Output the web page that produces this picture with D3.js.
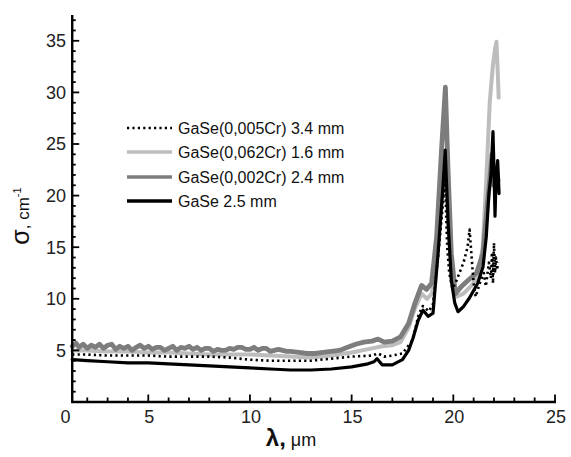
<!DOCTYPE html>
<html><head><meta charset="utf-8">
<script src="https://cdn.jsdelivr.net/npm/d3@7/dist/d3.min.js"></script>
<style>body{margin:0;background:#fff}svg{display:block}text{font-family:"Liberation Sans",Arial,sans-serif}</style>
</head><body><svg id="c" width="571" height="457"></svg>
<script>
// ---- data ----
const seriesNames = ["GaSe(0,005Cr) 3.4 mm","GaSe(0,062Cr) 1.6 mm","GaSe(0,002Cr) 2.4 mm","GaSe 2.5 mm"];
const xTickValues = [5,10,15,20,25];
const yTickValues = [5,10,15,20,25,30,35];

const wl_005 = [1.26,2,3,4,5,6,7,8,9,10,11,12,13,14,15,16,16.3,16.6,17,17.5,18.0,18.3,18.5,18.8,19.0,19.25,19.5,19.6,19.65,19.7,19.8,19.95,20.1,20.3,20.5,20.7,20.8,20.9,21.0,21.1,21.3,21.5,21.6,21.75,21.85,21.9,21.95,22.0,22.05,22.1,22.15,22.2];
const s_005  = [4.6,4.6,4.5,4.5,4.5,4.4,4.4,4.4,4.3,4.1,4.0,4.0,4.0,4.2,4.4,4.5,4.7,4.4,4.5,4.7,6.0,8.5,9.3,8.8,9.5,14,19.5,21.8,18,15,12.5,11.0,11.5,12.5,13.5,15,16.7,14,11.5,10.2,11.5,12.5,11.2,13.5,12,14.5,11.5,15.4,12.5,14,12.8,13.5];

const wl_062 = [1.26,2,3,4,5,6,7,8,9,10,11,12,13,14,15,16,16.5,17,17.4,17.8,18.1,18.44,18.7,18.95,19.2,19.45,19.6,19.75,19.95,20.15,20.5,20.9,21.2,21.45,21.62,21.79,21.94,22.05,22.12,22.18,22.23];
const s_062  = [5.0,5.0,4.9,4.9,4.8,4.8,4.7,4.6,4.6,4.6,4.5,4.4,4.3,4.5,4.8,5.2,5.4,5.5,5.8,7.2,9.0,10.5,10.0,10.5,14,20,23.5,17,12,10.2,10.5,11.3,12.2,15,21.5,29,32.5,34.2,34.9,32.2,29.5];

const wl_002 = [1.26,1.45,1.6,1.8,2.0,2.2,2.4,2.6,2.8,3.0,3.2,3.4,3.6,3.8,4.0,4.2,4.4,4.6,4.8,5.0,5.2,5.4,5.6,5.8,6.0,6.2,6.4,6.6,6.8,7.0,7.2,7.4,7.6,7.8,8.0,8.2,8.4,8.6,8.8,9.0,9.2,9.4,9.6,9.8,10.0,10.2,10.4,10.6,10.8,11.0,11.2,11.4,11.6,11.8,12.0,12.4,12.8,13.2,13.6,14.0,14.4,14.8,15.2,15.6,16.0,16.3,16.6,17.0,17.4,17.8,18.1,18.44,18.68,18.93,19.18,19.41,19.61,19.74,19.9,20.1,20.4,20.73,21.14,21.46,21.66,21.79,21.9,22.0,22.1,22.2];
const s_002  = [5.4,5.7,5.3,5.6,5.2,5.5,5.3,5.6,5.2,5.5,5.6,5.1,5.4,5.2,5.4,5.0,5.3,5.5,5.2,5.4,5.1,5.3,5.3,5.0,5.2,5.4,5.0,5.3,5.2,5.4,5.1,5.3,5.0,5.2,5.2,4.9,5.1,5.0,5.0,5.2,5.1,5.3,5.3,5.1,5.1,5.3,5.0,5.2,5.2,4.9,5.0,5.1,5.0,4.9,4.9,4.8,4.7,4.7,4.8,4.9,5.0,5.3,5.6,5.8,5.9,6.1,5.8,5.9,6.3,7.6,9.5,11.3,10.9,11.5,16,24.1,30.5,22.5,14.4,10.5,11.2,11.8,12.5,14.4,18.9,21.5,24.0,21.0,22.5,21.5];

const wl_0 = [1.26,2,3,4,5,6,7,8,9,10,11,12,13,14,15,15.8,16.1,16.25,16.5,17.0,17.5,17.8,18.02,18.27,18.51,18.76,19.0,19.25,19.49,19.6,19.74,19.9,20.07,20.23,20.48,20.8,21.2,21.46,21.62,21.75,21.85,21.95,22.0,22.05,22.1,22.18,22.25];
const s_0  = [4.1,4.0,3.9,3.8,3.8,3.7,3.6,3.5,3.4,3.3,3.2,3.1,3.1,3.2,3.4,3.7,3.9,4.2,3.6,3.6,4.1,5.0,6.2,7.9,8.9,8.3,8.6,14.4,20.9,24.4,17.6,11.8,9.6,8.75,9.2,10.1,11.5,13.1,16.0,20.2,22,26.2,22.5,18,21.5,23.4,20.2];

// ---- chart ----
const svg = d3.select("#c");
const x = d3.scaleLinear().domain([0,25]).range([46.6,555]);
const y = d3.scaleLinear().domain([0,37.5]).range([402,15]);
const xStart = 1.26;

const styles = [
  {wl: wl_005, s: s_005, color:"#000", width:2.6, dash:"2.2,3.2"},
  {wl: wl_062, s: s_062, color:"#bdbdbd", width:4, dash:null},
  {wl: wl_002, s: s_002, color:"#7d7d7d", width:4.8, dash:null},
  {wl: wl_0,   s: s_0,   color:"#000", width:3.2, dash:null}
];
const line = d3.line().x(d=>x(d[0])).y(d=>y(d[1])).curve(d3.curveLinear);
const drawOrder = [1,2,0,3];
drawOrder.forEach(i=>{
  const st = styles[i];
  const pts = st.wl.map((w,k)=>[w, st.s[k]]);
  svg.append("path").attr("d", line(pts)).attr("fill","none")
    .attr("stroke", st.color).attr("stroke-width", st.width)
    .attr("stroke-linejoin","round")
    .attr("stroke-dasharray", st.dash)
    .attr("stroke-linecap", st.dash ? "butt" : "round");
});

// axes
const gx = svg.append("g");
const minorX = d3.range(2,26).filter(v=>v%5!==0);
gx.selectAll("line.mx").data(minorX).join("line")
  .attr("x1",d=>x(d)).attr("x2",d=>x(d)).attr("y1",y(0)).attr("y2",y(0)-4.5)
  .attr("stroke","#000").attr("stroke-width",1.8);
gx.selectAll("line.Mx").data(xTickValues).join("line")
  .attr("x1",d=>x(d)).attr("x2",d=>x(d)).attr("y1",y(0)).attr("y2",y(0)-7.5)
  .attr("stroke","#000").attr("stroke-width",1.8);
gx.append("line").attr("x1",x(xStart)-1).attr("x2",x(25)+1).attr("y1",y(0)).attr("y2",y(0))
  .attr("stroke","#000").attr("stroke-width",2.4);
gx.selectAll("text").data(xTickValues).join("text")
  .attr("x",d=>x(d)+1).attr("y",423).attr("text-anchor","middle")
  .attr("font-size",18).attr("fill","#222").text(d=>d);
svg.append("text").attr("x",65.5).attr("y",423).attr("text-anchor","middle")
  .attr("font-size",18).attr("fill","#222").text("0");

const gy = svg.append("g");
const minorY = d3.range(1,38).filter(v=>v%5!==0);
gy.selectAll("line.my").data(minorY).join("line")
  .attr("x1",x(xStart)).attr("x2",x(xStart)+3.5).attr("y1",d=>y(d)).attr("y2",d=>y(d))
  .attr("stroke","#000").attr("stroke-width",1.8);
gy.selectAll("line.My").data(yTickValues).join("line")
  .attr("x1",x(xStart)).attr("x2",x(xStart)+7).attr("y1",d=>y(d)).attr("y2",d=>y(d))
  .attr("stroke","#000").attr("stroke-width",1.8);
gy.append("line").attr("x1",x(xStart)).attr("x2",x(xStart)).attr("y1",y(0)+1).attr("y2",y(37.5))
  .attr("stroke","#000").attr("stroke-width",2.4);
gy.selectAll("text").data(yTickValues).join("text")
  .attr("x",66).attr("y",d=>y(d)).attr("dy","0.35em").attr("text-anchor","end")
  .attr("font-size",18).attr("fill","#222").text(d=>d);

// axis titles
const yt = svg.append("text").attr("transform","translate(29,216) rotate(-90)")
  .attr("text-anchor","middle").attr("fill","#111");
yt.append("tspan").attr("font-size",25).text("σ");
yt.append("tspan").attr("font-size",17).text(", cm");
yt.append("tspan").attr("font-size",11).attr("dy",-8).text("-1");

const xt = svg.append("text").attr("x",291).attr("y",446).attr("text-anchor","middle").attr("fill","#111");
xt.append("tspan").attr("font-size",24).attr("font-weight","bold").text("λ,");
xt.append("tspan").attr("font-size",18).text(" μm");

// legend
const legY = [128,152,177,201];
const leg = svg.append("g");
styles.forEach((st,i)=>{
  leg.append("line").attr("x1",127).attr("x2",172).attr("y1",legY[i]).attr("y2",legY[i])
    .attr("stroke",st.color).attr("stroke-width", st.dash ? 2.6 : 3.6)
    .attr("stroke-dasharray", st.dash);
  leg.append("text").attr("x",178).attr("y",legY[i]).attr("dy","0.35em")
    .attr("font-size",16).attr("fill","#111").text(seriesNames[i]);
});
</script></body></html>
